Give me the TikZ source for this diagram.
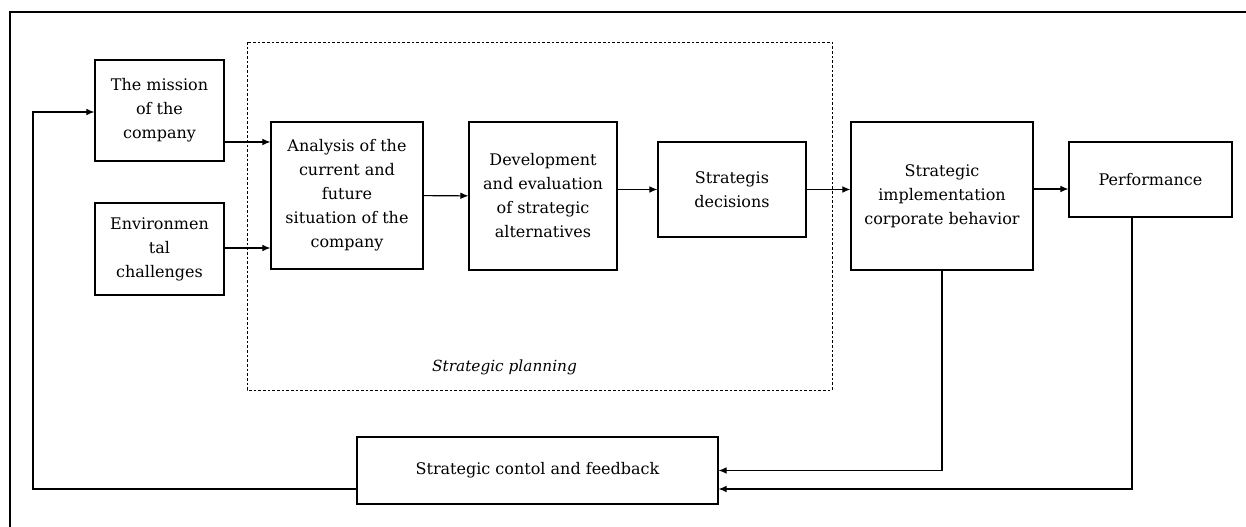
\documentclass[tikz,border=0pt]{standalone}
\usepackage{fontspec}
\setmainfont{DejaVu Serif}
\usepackage{tikz}
\usetikzlibrary{arrows.meta}

\tikzset{
  box/.style={draw, line width=0.9pt, align=center, inner sep=2pt,
    font=\fontsize{12}{18}\selectfont},
  arr/.style={-{Latex[length=6pt,width=5pt]}, line width=0.8pt},
}

\begin{document}
\begin{tikzpicture}[x=0.75pt, y=-0.75pt]
  % Bounding box and frame
  \useasboundingbox (0,0) rectangle (1246,527);
  \draw[line width=1.2pt] (10,527) -- (10,12) -- (1246,12);

  % Strategic planning area
  \draw[dashed, dash pattern=on 2pt off 1.5pt, line width=0.6pt] (247,42) rectangle (832,390);
  \node[font=\fontsize{11.5}{14}\selectfont\itshape] (plan) at (504.5,367) {Strategic planning};

  % Boxes
  \node[box, minimum width=96.75pt, minimum height=75.75pt] (mission) at (159.5,110.5) {The mission\\of the\\company};
  \node[box, minimum width=96.75pt, minimum height=69pt] (env) at (159.5,249) {Environmen\\tal\\challenges};
  \node[box, minimum width=114pt, minimum height=110.25pt] (analysis) at (347,195.5) {Analysis of the\\current and\\future\\situation of the\\company};
  \node[box, minimum width=111pt, minimum height=111pt] (dev) at (543,196) {Development\\and evaluation\\of strategic\\alternatives};
  \node[box, minimum width=111pt, minimum height=71.25pt] (decisions) at (732,189.5) {Strategis\\decisions};
  \node[box, minimum width=136.5pt, minimum height=111pt] (impl) at (942,196) {Strategic\\implementation\\corporate behavior};
  \node[box, minimum width=122.25pt, minimum height=56.25pt] (perf) at (1150.5,179.5) {Performance};
  \node[box, minimum width=270.75pt, minimum height=50.25pt] (control) at (537.5,470.5) {Strategic contol and feedback};

  % Helper points
  \coordinate (m1) at (230,142);
  \coordinate (e1) at (230,248);
  \coordinate (ip) at (1040,189);
  \coordinate (fb) at (1132,489);
  \coordinate (lb) at (33,489);
  \coordinate (lt) at (33,112);

  % Connectors
  \draw[arr] (mission.east |- m1) -- (analysis.west |- m1);
  \draw[arr] (env.east |- e1) -- (analysis.west |- e1);
  \draw[arr] (analysis) -- (dev);
  \draw[arr] (dev.east |- decisions) -- (decisions);
  \draw[arr] (decisions) -- (impl.west |- decisions);
  \draw[arr] (impl.east |- ip) -- (perf.west |- ip);
  \draw[arr] (impl.south) |- (control.east);
  \draw[arr] (perf.south -| fb) -- (fb) -- (control.east |- fb);
  \draw[arr] (control.west |- lb) -- (lb) -- (lt) -- (mission.west |- lt);
\end{tikzpicture}
\end{document}
